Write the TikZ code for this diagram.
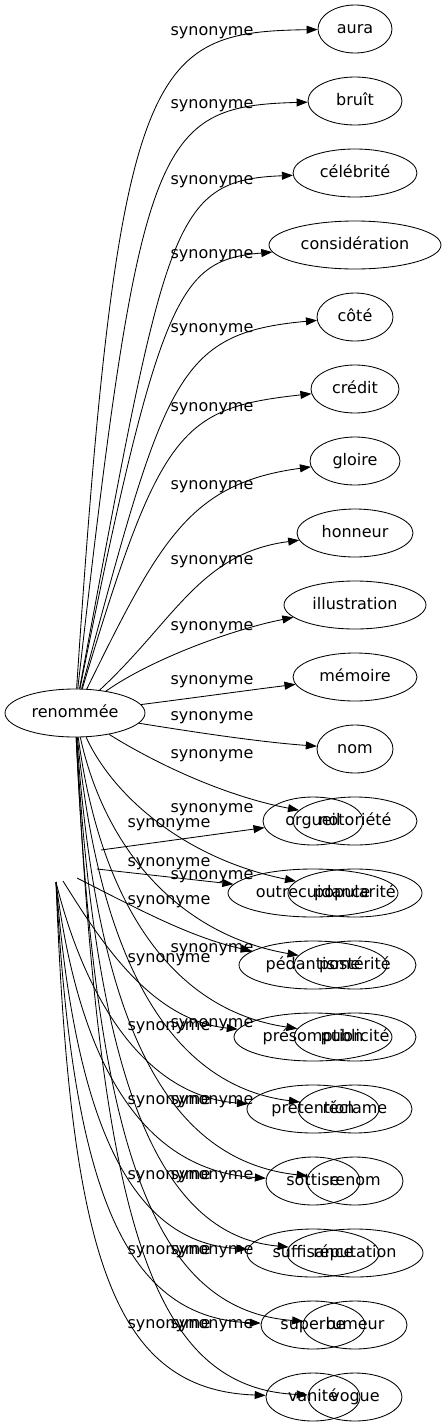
\documentclass[tikz,border=0pt]{standalone}
\usepackage{fontspec}
\setmainfont{DejaVu Sans}
\usepackage{tikz}
\usetikzlibrary{arrows.meta,shapes.geometric}

\tikzset{
    mot/.style={ellipse, draw, inner sep=1pt, minimum height=48,
                text height=12, text depth=3.5},
    lien/.style={-{Triangle[length=11pt,width=8pt]}},
    etiq/.style={inner sep=0pt},
}

\begin{document}
\begin{tikzpicture}[x=1pt, y=-1pt, line width=0.85pt, font=\fontsize{16}{19}\selectfont]
    \useasboundingbox (0,0) rectangle (445,1427);

    % Source node
    \node[mot, minimum width=140] (renommee) at (75,713) {renommée};

    % First column of synonyms
    \foreach \nm/\txt/\rx [count=\i from 0] in {
        aura/aura/37, bruit/bruît/47, celebrite/célébrité/62,
        consideration/considération/86, cote/côté/38, credit/crédit/44,
        gloire/gloire/45, honneur/honneur/58, illustration/illustration/71,
        memoire/mémoire/62, nom/nom/38, notoriete/notoriété/62,
        popularite/popularité/67, posterite/postérité/61, publicite/publicité/61,
        reclame/réclame/57, renom/renom/48, reputation/réputation/68,
        rumeur/rumeur/52, vogue/vogue/47} {
        \node[mot, minimum width=2*\rx] (\nm) at (355, 29+72*\i) {\txt};
    }

    % Second column (overlapping)
    \foreach \nm/\txt/\rx [count=\i from 11] in {
        orgueil/orgueil/50, outrecuidance/outrecuidance/85,
        pedantisme/pédantisme/74, presomption/présomption/79,
        pretention/prétention/66, sottise/sottise/47,
        suffisance/suffisance/66, superbe/superbe/52, vanite/vanité/47} {
        \node[mot, minimum width=2*\rx] (\nm) at (313, 29+72*\i) {\txt};
    }

    % Edge labels
    \foreach \ly [count=\i] in {33,106,182,256,330,409,487,562,628,682,
                                718,756,810,877,950,1025,1102,1177,1252,1326} {
        \node[etiq] (la\i) at (212,\ly) {synonyme};
    }
    \foreach \ly [count=\i] in {825,864,902,960,1028,1102,1177,1252,1326} {
        \node[etiq] (lb\i) at (169,\ly) {synonyme};
    }

    % Edges from renommee
    \foreach \nm/\ax/\ay/\bx/\by in {
        aura/118/60/150/32, bruit/140/140/155/106, celebrite/166/225/170/180,
        consideration/160/290/180/260, cote/165/380/175/333,
        credit/160/430/180/408, gloire/160/540/190/483,
        honneur/175/620/200/553, illustration/150/660/230/630,
        memoire/200/697/250/690, nom/200/733/260/742,
        notoriete/150/760/220/795, popularite/115/800/190/860,
        posterite/105/850/180/935, publicite/100/900/170/1010,
        reclame/98/950/165/1085, renom/96/1010/160/1160,
        reputation/95/1070/155/1235, rumeur/95/1140/150/1310,
        vogue/100/1220/150/1388} {
        \draw[lien] (renommee) .. controls (\ax,\ay) and (\bx,\by) .. (\nm);
    }

    % Edges of the second graph (source not drawn)
    \coordinate (sb1) at (101,850);
    \coordinate (sb2) at (97,869);
    \coordinate (sb3) at (77,878);
    \coordinate (sb4) at (63,881);
    \coordinate (sb5) at (56,882);
    \draw[lien] (sb1) -- (orgueil);
    \draw[lien] (sb2) -- (outrecuidance);
    \draw[lien] (sb3) .. controls (140,910) and (190,937) .. (pedantisme);
    \draw[lien] (sb4) .. controls (100,940) and (150,1020) .. (presomption);
    \foreach \nm/\ax/\ay/\bx/\by in {
        pretention/80/980/135/1095, sottise/76/1040/130/1170,
        suffisance/74/1110/125/1242, superbe/72/1180/120/1318,
        vanite/70/1250/110/1390} {
        \draw[lien] (sb5) .. controls (\ax,\ay) and (\bx,\by) .. (\nm);
    }
\end{tikzpicture}
\end{document}
